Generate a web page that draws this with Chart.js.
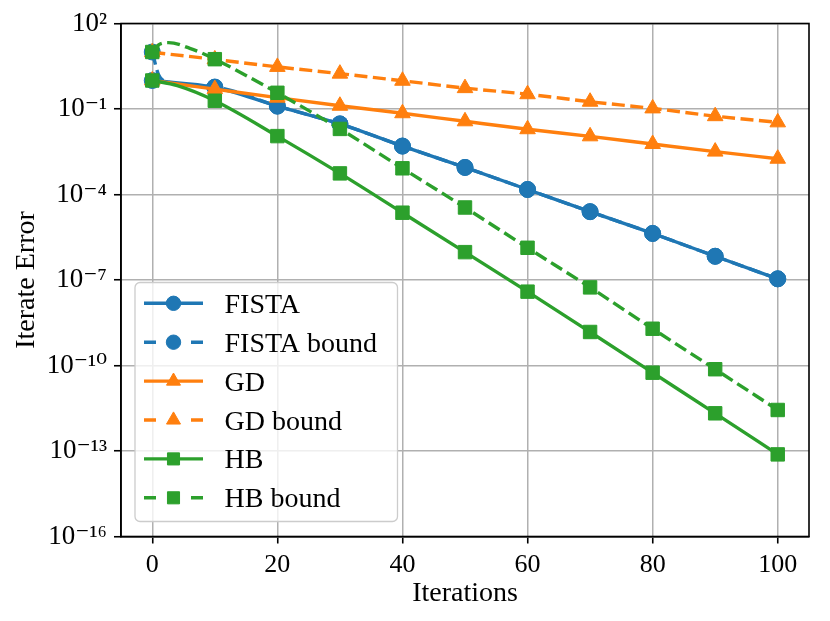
<!DOCTYPE html>
<html><head><meta charset="utf-8">
<script src="https://cdn.jsdelivr.net/npm/chart.js@4.4.1/dist/chart.umd.min.js"></script>
<style>html,body{margin:0;padding:0;background:#fff}</style>
</head><body>
<canvas id="c" width="830" height="621"></canvas>
<script>
// ---- data ----
const fistaX = [0, 10, 20, 30, 40, 50, 60, 70, 80, 90, 100];
const fista  = [1, 0.575, 0.126, 0.030, 5.0e-3, 8.9e-4, 1.5e-4, 2.5e-5, 4.3e-6, 6.8e-7, 1.1e-7];
const fistaBoundX = [0, 1, 2, 10, 20, 30, 40, 50, 60, 70, 80, 90, 100];
const fistaBound  = [10, 1.6, 0.95, 0.59, 0.127, 0.030, 5.0e-3, 8.9e-4, 1.5e-4, 2.5e-5, 4.3e-6, 6.8e-7, 1.1e-7];
const gdX = [0, 10, 20, 30, 40, 50, 60, 70, 80, 90, 100];
const gd  = [1, 0.5, 0.25, 0.13, 0.071, 0.037, 0.0195, 0.011, 5.9e-3, 3.2e-3, 1.8e-3];
const gdBoundX = [0, 10, 20, 30, 40, 50, 60, 70, 80, 90, 100];
const gdBound  = [9.8, 5.5, 3.0, 1.74, 0.98, 0.54, 0.33, 0.18, 0.105, 0.056, 0.034];
const hbX = [0, 4, 10, 20, 30, 40, 50, 60, 70, 80, 90, 100];
const hb  = [1, 0.66, 0.195, 0.0112, 5.5e-4, 2.3e-5, 9.5e-7, 3.9e-8, 1.5e-9, 5.6e-11, 2.1e-12, 7.6e-14];
const hbBoundX = [0, 1, 2.6, 6, 10, 20, 30, 40, 50, 60, 70, 80, 90, 100];
const hbBound  = [10, 17.8, 21.4, 13.5, 5.6, 0.37, 0.02, 8.3e-4, 3.5e-5, 1.35e-6, 5.5e-8, 1.95e-9, 7.4e-11, 2.75e-12];
const seriesNames = ['FISTA', 'FISTA bound', 'GD', 'GD bound', 'HB', 'HB bound'];
const xTicks = [0, 20, 40, 60, 80, 100];
const yTickExps = [2, -1, -4, -7, -10, -13, -16];
const xTitle = 'Iterations';
const yTitle = 'Iterate Error';

// ---- styling ----
const BLUE = '#1f77b4', ORANGE = '#ff7f0e', GREEN = '#2ca02c';
const FONT = "'Liberation Serif', 'DejaVu Serif', serif";
const DASH = [13, 5.5];
const LW = 3.4;
const sup = {'0':'⁰','1':'¹','2':'²','3':'³','4':'⁴','5':'⁵','6':'⁶','7':'⁷','8':'⁸','9':'⁹','-':'⁻'};

function pts(xs, ys) { return xs.map((x, i) => ({x: x, y: ys[i]})); }
function mk(label, xs, ys, color, dashed, style, r, order) {
  return {
    label: label, data: pts(xs, ys), borderColor: color, backgroundColor: color,
    borderWidth: LW, borderDash: dashed ? DASH : [], pointStyle: style,
    pointRadius: c => (c.raw && c.raw.x % 10 === 0) ? r : 0,
    pointHoverRadius: 0, pointBorderWidth: 1, pointBorderColor: color, pointBackgroundColor: color,
    cubicInterpolationMode: 'monotone', order: order, fill: false, _r: r
  };
}

const datasets = [
  mk(seriesNames[0], fistaX, fista, BLUE, false, 'circle', 8, 6),
  mk(seriesNames[1], fistaBoundX, fistaBound, BLUE, true, 'circle', 8, 5),
  mk(seriesNames[2], gdX, gd, ORANGE, false, 'triangle', 9, 4),
  mk(seriesNames[3], gdBoundX, gdBound, ORANGE, true, 'triangle', 9, 3),
  mk(seriesNames[4], hbX, hb, GREEN, false, 'rect', 9.5, 2),
  mk(seriesNames[5], hbBoundX, hbBound, GREEN, true, 'rect', 9.5, 1)
];

const framePlugin = {
  id: 'frame',
  afterDatasetsDraw(chart) {
    const {ctx, chartArea: a} = chart;
    ctx.save();
    ctx.strokeStyle = '#000'; ctx.lineWidth = 1.6;
    ctx.strokeRect(a.left, a.top, a.right - a.left, a.bottom - a.top);
    ctx.restore();
  },
  afterDraw(chart) {
    const ctx = chart.ctx;
    const bx = 135, by = 282.5, bw = 262.5, bh = 239;
    ctx.save();
    ctx.beginPath();
    ctx.roundRect(bx, by, bw, bh, 5);
    ctx.fillStyle = 'rgba(255,255,255,0.8)';
    ctx.fill();
    ctx.strokeStyle = '#cccccc'; ctx.lineWidth = 1.3;
    ctx.stroke();
    const rowY0 = 303.3, rowStep = 38.9;
    chart.data.datasets.forEach((ds, i) => {
      const y = rowY0 + i * rowStep;
      ctx.save();
      ctx.strokeStyle = ds.borderColor; ctx.lineWidth = LW; ctx.lineCap = 'butt';
      ctx.beginPath();
      if (ds.borderDash.length) {
        ctx.moveTo(144, y); ctx.lineTo(156, y);
        ctx.moveTo(191, y); ctx.lineTo(203, y);
      } else {
        ctx.moveTo(144, y); ctx.lineTo(203, y);
      }
      ctx.stroke();
      ctx.fillStyle = ds.borderColor; ctx.strokeStyle = ds.borderColor; ctx.lineWidth = 1;
      Chart.helpers.drawPoint(ctx, {pointStyle: ds.pointStyle, radius: ds._r * 0.9, rotation: 0, borderWidth: 1}, 173.5, y);
      ctx.restore();
      ctx.fillStyle = '#000';
      ctx.font = '28px ' + FONT;
      ctx.textBaseline = 'alphabetic';
      ctx.fillText(ds.label, 224.5, y + 9.5);
    });
    ctx.restore();
  }
};

new Chart(document.getElementById('c'), {
  type: 'line',
  data: {datasets: datasets},
  options: {
    responsive: false, animation: false, devicePixelRatio: 1,
    layout: {padding: {top: 23.5, right: 21, left: 0, bottom: 0}},
    plugins: {legend: {display: false}, tooltip: {enabled: false}},
    scales: {
      x: {
        type: 'linear', min: -5, max: 105,
        afterBuildTicks: s => { s.ticks = xTicks.map(v => ({value: v})); },
        afterFit: s => { s.height = 84.5; },
        ticks: {autoSkip: false, maxRotation: 0, padding: 6, color: '#000',
                font: {family: FONT, size: 26}, callback: v => String(v)},
        grid: {color: '#b0b0b0', lineWidth: 1.5, tickColor: '#000', tickWidth: 1.6, tickLength: 7},
        border: {display: true, color: '#000', width: 1.6},
        title: {display: true, text: xTitle, color: '#000', font: {family: FONT, size: 28},
                padding: {top: 0, bottom: 11}}
      },
      y: {
        type: 'logarithmic', min: 1e-16, max: 1e2,
        afterBuildTicks: s => { s.ticks = yTickExps.map(e => ({value: Math.pow(10, e)})); },
        afterFit: s => { s.width = 121; },
        ticks: {autoSkip: false, padding: 7, color: '#000', font: {family: FONT, size: 27},
                callback: v => '10' + String(Math.round(Math.log10(v))).split('').map(ch => sup[ch]).join('')},
        grid: {color: '#b0b0b0', lineWidth: 1.5, tickColor: '#000', tickWidth: 1.6, tickLength: 7},
        border: {display: true, color: '#000', width: 1.6},
        title: {display: true, text: yTitle, color: '#000', font: {family: FONT, size: 28},
                padding: {top: 10, bottom: 0}}
      }
    }
  },
  plugins: [framePlugin]
});
</script>
</body></html>
